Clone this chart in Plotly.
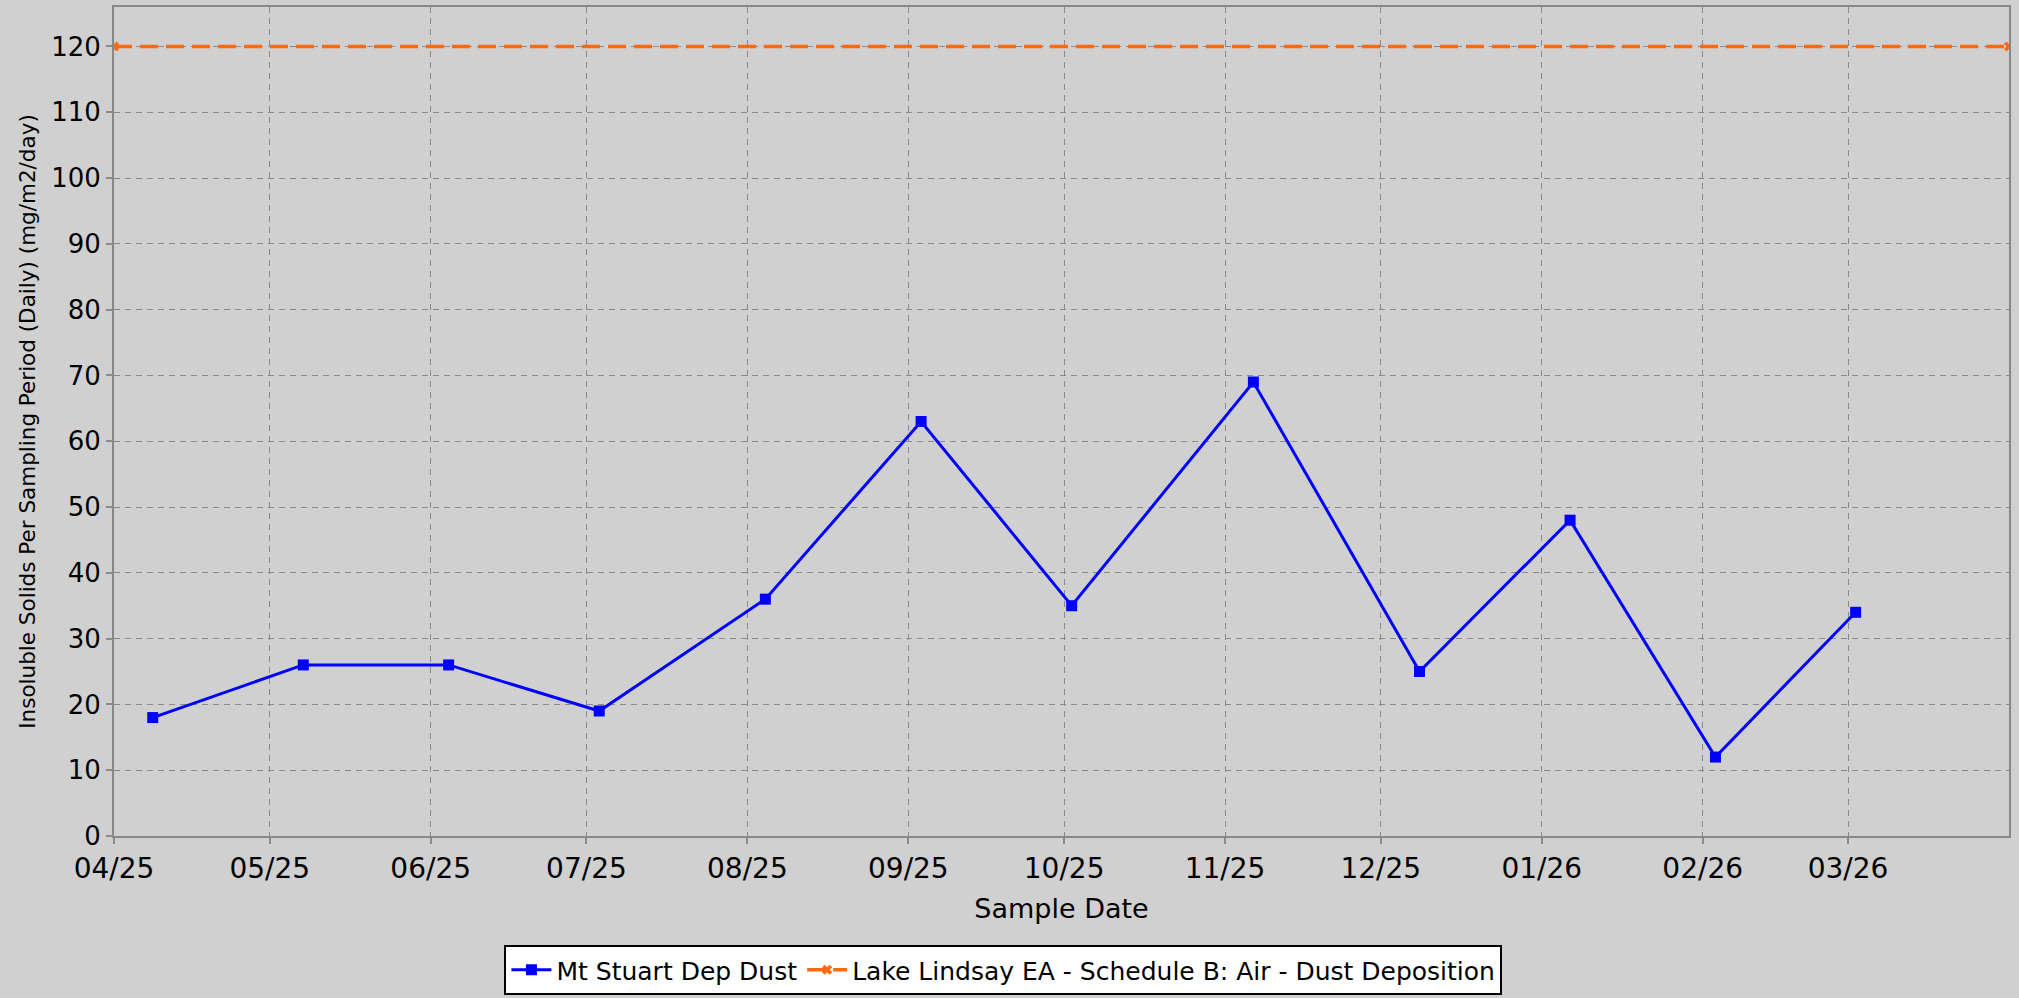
import plotly.graph_objects as go

# Data
sample_dates = ["2025-04-08 11:00", "2025-05-07 11:00", "2025-06-04 11:00", "2025-07-03 11:00",
                "2025-08-04 11:00", "2025-09-03 11:00", "2025-10-02 11:00", "2025-11-06 11:00",
                "2025-12-08 11:00", "2026-01-06 11:00", "2026-02-03 11:00", "2026-03-02 11:00"]
dust_values = [18, 26, 26, 19, 36, 63, 35, 69, 25, 48, 12, 34]

limit_dates = ["2025-04-01", "2026-04-01"]
limit_values = [120, 120]

tick_dates = ["2025-04-01", "2025-05-01", "2025-06-01", "2025-07-01", "2025-08-01", "2025-09-01",
              "2025-10-01", "2025-11-01", "2025-12-01", "2026-01-01", "2026-02-01", "2026-03-01"]
tick_labels = ["04/25", "05/25", "06/25", "07/25", "08/25", "09/25",
               "10/25", "11/25", "12/25", "01/26", "02/26", "03/26"]
y_ticks = [0, 10, 20, 30, 40, 50, 60, 70, 80, 90, 100, 110, 120]

BG = "#d0d0d0"
GRID = "#8a8a8a"
FONT = "DejaVu Sans"

fig = go.Figure()
fig.add_trace(go.Scatter(
    x=sample_dates, y=dust_values, mode="lines+markers", name="Mt Stuart Dep Dust",
    line=dict(color="#0000ff", width=3),
    marker=dict(symbol="square", size=11, color="#0000ff"),
))
fig.add_trace(go.Scatter(
    x=limit_dates, y=limit_values, mode="lines+markers",
    name="Lake Lindsay EA - Schedule B: Air - Dust Deposition",
    line=dict(color="#ff6a10", width=3.5, dash="18px,8px"),
    marker=dict(symbol="x", size=9, color="#ff6a10", line=dict(width=0)),
))

fig.update_layout(
    width=2019, height=998,
    paper_bgcolor=BG, plot_bgcolor=BG,
    margin=dict(l=114, r=10, t=5, b=162),
    font=dict(family=FONT, color="black"),
    showlegend=True,
    legend=dict(
        orientation="h", xref="container", yref="container",
        x=0.497, xanchor="center", y=0.003, yanchor="bottom",
        bgcolor="white", bordercolor="black", borderwidth=2,
        font=dict(family=FONT, size=25, color="black"),
        itemwidth=40, tracegroupgap=0,
    ),
    xaxis=dict(
        type="date",
        range=["2025-04-01", "2026-04-01"],
        tickvals=tick_dates, ticktext=tick_labels,
        tickfont=dict(size=28, family=FONT),
        ticks="outside", ticklen=6, tickcolor=GRID, tickwidth=1.5,
        showline=True, linecolor="#888888", linewidth=2, mirror=True,
        showgrid=True, gridcolor=GRID, gridwidth=1.3, griddash="6px,5px",
        zeroline=False,
        title=dict(text="Sample Date", font=dict(size=27, family=FONT), standoff=16),
    ),
    yaxis=dict(
        range=[0, 126],
        tickvals=y_ticks,
        tickfont=dict(size=26, family=FONT),
        ticks="outside", ticklen=6, tickcolor=GRID, tickwidth=1.5,
        showline=True, linecolor="#888888", linewidth=2, mirror=True,
        showgrid=True, gridcolor=GRID, gridwidth=1.3, griddash="6px,5px",
        zeroline=False,
        title=dict(text="Insoluble Solids Per Sampling Period (Daily) (mg/m2/day)",
                   font=dict(size=21.5, family=FONT), standoff=10),
    ),
)

fig.write_html("out.html", config={"displayModeBar": False},
               post_script="document.body.style.margin='0';")
